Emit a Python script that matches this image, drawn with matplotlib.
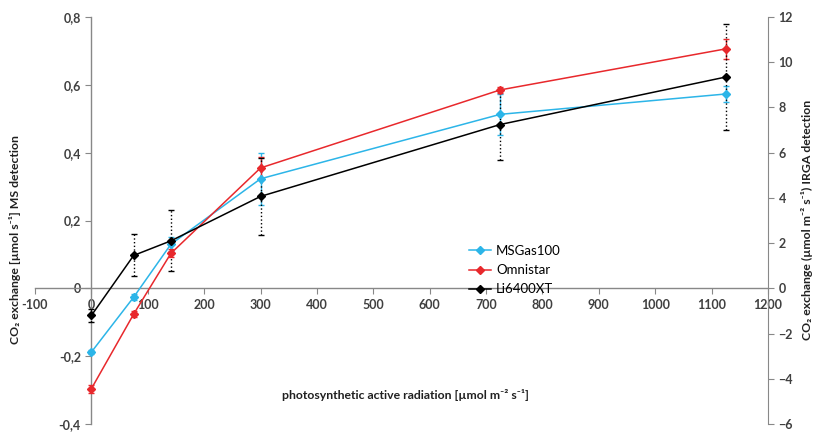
import matplotlib
matplotlib.use("Agg")
import matplotlib.pyplot as plt
import numpy as np

plt.rcParams['font.family'] = ['Lato', 'DejaVu Sans']

par = [0, 75, 141, 300, 725, 1125]
msgas = [-0.188, -0.026, 0.130, 0.323, 0.513, 0.573]
msgas_err = [0.006, 0.008, 0.02, 0.077, 0.06, 0.024]
omni = [-0.296, -0.076, 0.103, 0.355, 0.585, 0.706]
omni_err = [0.012, 0.008, 0.012, 0.032, 0.01, 0.03]
li = [-0.080, 0.097, 0.140, 0.271, 0.483, 0.623]
li_err = [0.02, 0.062, 0.09, 0.113, 0.106, 0.155]

names = ["MSGas100", "Omnistar", "Li6400XT"]
colors = ["#2CB5E8", "#E8282C", "#000000"]

xticks = list(range(-100, 1201, 100))
yticks_left = [-0.4, -0.2, 0, 0.2, 0.4, 0.6, 0.8]
yticks_right = list(range(-6, 13, 2))

top_px, bot_px = 17, 424
fig = plt.figure(figsize=(8.14, 4.32), dpi=100)
ax = fig.add_axes([35/814, 1-bot_px/432, (768-35)/814, (bot_px-top_px)/432])
ax.set_xlim(-100, 1200)
ax.set_ylim(-0.4, 0.8)

tick_col = "#404040"
ax.spines['left'].set_position(('data', 0))
ax.spines['bottom'].set_position(('data', 0))
ax.spines['top'].set_visible(False)
ax.spines['right'].set_visible(False)
for s in ['left', 'bottom']:
    ax.spines[s].set_color('#888888')
    ax.spines[s].set_linewidth(1.0)

series = [(msgas, msgas_err, 'solid'), (omni, omni_err, 'solid'), (li, li_err, 'dotted')]
for (vals, err, els), c, n in zip(series, colors, names):
    h = ax.errorbar(par, vals, yerr=err, color=c, marker='D', markersize=4.5,
                    linewidth=1.1, capsize=2.5, elinewidth=1.0, capthick=1.0,
                    label=n, zorder=3)
    h[2][0].set_linestyle(':' if els == 'dotted' else '-')

ax.set_xticks(xticks)
ax.set_xticklabels([str(v) for v in xticks])
ax.set_yticks(yticks_left)
ax.set_yticklabels(["0" if v == 0 else f"{v:.1f}".replace('.', ',') for v in yticks_left])
ax.tick_params(axis='both', colors='#888888', labelcolor=tick_col, labelsize=9, length=4)
for lab in ax.get_xticklabels() + ax.get_yticklabels():
    lab.set_fontweight('bold')

ax2 = ax.twinx()
ax2.set_ylim(-6, 12)
ax2.set_yticks(yticks_right)
for s in ['left', 'top', 'bottom']:
    ax2.spines[s].set_visible(False)
ax2.spines['right'].set_color('#888888')
ax2.tick_params(axis='y', colors='#888888', labelcolor=tick_col, labelsize=9, length=4)
for lab in ax2.get_yticklabels():
    lab.set_fontweight('bold')

fig.text(15/814, 1-240/432, "CO₂ exchange [µmol s⁻¹] MS detection", rotation=90,
         ha='center', va='center', fontsize=8.8, fontweight='bold', color='#202020')
fig.text(807/814, 1-220/432, "CO₂ exchange (µmol m⁻² s⁻¹) IRGA detection", rotation=90,
         ha='center', va='center', fontsize=8.8, fontweight='bold', color='#202020')
fig.text(405/814, 1-395/432, "photosynthetic active radiation [µmol m⁻² s⁻¹]",
         ha='center', va='center', fontsize=8.8, fontweight='bold', color='#202020')

leg_handles = []
for c, n in zip(colors, names):
    l, = ax.plot([], [], color=c, marker='D', markersize=4, linewidth=1.1, label=n)
    leg_handles.append(l)
ax.legend(handles=leg_handles, loc='upper left', bbox_to_anchor=((457-35)/733, 1-(233-top_px)/(bot_px-top_px)),
          frameon=False, fontsize=9.5, handlelength=1.7, handletextpad=0.35, labelspacing=0.55)

fig.savefig("out.png", dpi=100)
